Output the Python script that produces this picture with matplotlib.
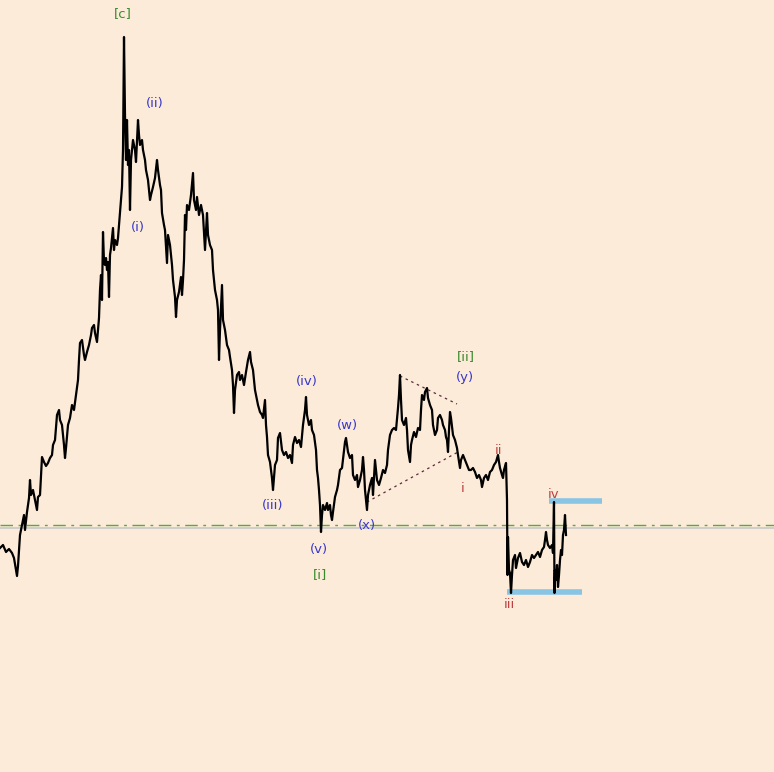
import matplotlib
matplotlib.use("Agg")
import matplotlib.pyplot as plt
import numpy as np

# ---- data (bar index, price; price = 772 - pixel row) ----
trace = [
(0,548),(3,545),(6,552),(9,549),(12,553),(14,558),(16,570),(17,576),(18,566),(20,535),(22,525),(24,515),(25,530),(27,512),
(29,498),(30,480),(31,495),(33,490),(35,500),(37,510),(38,497),(40,495),(42,457),(44,462),(46,466),(48,463),(50,458),(52,455),
(53,445),(55,440),(57,415),(59,410),(60,420),(62,425),(64,445),(65,458),(66,448),(68,425),(70,418),(72,405),(74,410),(76,395),
(78,380),(79,360),(80,343),(82,340),(84,355),(85,360),(87,352),(89,345),(91,335),(92,328),(94,325),(95,333),(97,342),(99,318),
(100,290),(101,275),(102,300),(103,232),(104,262),(105,265),(106,258),(107,270),(108,262),(109,297),(110,255),(111,248),(113,228),
(114,250),(115,240),(117,245),(118,238),(120,213),(121,200),(122,187),(123,150),(124,37),(125,115),(126,160),(127,120),(128,165),
(129,150),(130,210),(131,160),(133,140),(135,150),(136,162),(138,120),(139,135),(140,145),(142,140),(143,150),(145,160),(146,170),
(148,180),(150,200),(151,195),(153,187),(155,178),(157,160),(158,170),(160,185),(161,190),(162,213),(164,225),(165,230),(167,263),
(168,235),(170,245),(172,265),(173,280),(175,297),(176,317),(177,300),(179,292),(181,277),(182,295),(183,280),(184,260),(185,215),
(186,230),(187,205),(189,210),(191,195),(193,173),(194,200),(196,210),(197,197),(199,215),(201,205),(203,215),(205,250),(207,213),
(208,235),(210,245),(212,250),(213,270),(215,290),(217,300),(218,310),(219,360),(220,330),(222,285),(223,320),(225,330),(227,345),
(229,350),(230,357),(232,370),(233,385),(234,413),(235,390),(237,375),(239,372),(240,380),(242,375),(244,385),(246,372),(248,360),
(250,352),(251,362),(253,370),(255,390),(257,400),(258,405),(260,412),(262,415),(263,418),(265,400),(266,425),(267,437),(268,455),
(270,462),(271,470),(272,478),(273,490),(275,465),(277,460),(278,438),(280,433),(282,450),(284,455),(286,452),(288,458),(290,455),
(292,463),(293,445),(295,437),(297,443),(299,440),(301,447),(303,425),(305,410),(306,397),(307,415),(309,425),(311,420),(312,430),
(314,435),(316,450),(317,470),(318,478),(319,490),(320,505),(321,532),(322,515),(323,505),(325,510),(327,503),(328,510),(330,505),
(331,515),(332,520),(333,512),(335,497),(337,490),(338,485),(340,470),(342,468),(344,450),(345,442),(346,438),(348,452),(350,458),
(352,455),(353,475),(355,480),(357,475),(358,487),(360,480),(362,470),(363,457),(364,470),(365,490),(367,510),(368,495),(370,485),
(372,478),(373,495),(375,460),(377,480),(379,485),(381,478),(383,470),(385,473),(387,465),(388,450),(390,435),(392,430),(394,428),
(396,430),(398,408),(399,395),(400,375),(401,400),(402,420),(404,425),(406,418),(407,430),(408,450),(410,462),(411,445),(412,440),
(414,432),(416,437),(418,428),(420,430),(421,410),(422,395),(424,400),(425,392),(427,388),(428,398),(430,405),(432,410),(433,425),
(435,435),(437,430),(438,418),(440,415),(442,420),(443,425),(445,430),(446,437),(447,440),(448,452),(449,430),(450,412),(451,418),
(453,435),(455,440),(457,448),(458,455),(460,468),(461,460),(463,455),(465,460),(467,465),(469,470),(471,470),(473,468),(475,472),
(477,478),(479,475),(481,480),(482,487),(484,478),(486,475),(488,480),(490,472),(492,470),(494,465),(496,462),(498,455),(499,462),
(500,468),(502,475),(503,478),(504,470),(506,463),(507,500),(507.5,575),(508,537),(509,570),(510,573),(511,593),(512,575),(513,560),
(515,555),(516,568),(518,558),(520,553),(522,562),(524,565),(526,560),(528,567),(530,562),(532,555),(534,558),(536,555),(538,552),
(540,557),(542,550),(544,547),(545,540),(546,532),(547,540),(548,545),(550,548),(552,545),(553,553),(554,502),(554.5,593),(555,570),
(556,580),(557,565),(558,587),(559,575),(560,560),(561,550),(562,555),(563,535),(564,530),(565,515),(566,535),
]
bar_idx = [t[0] for t in trace]
price = [772 - t[1] for t in trace]

# wave labels: (text, bar index, price, colour group)
wave_labels = [
    ("[c]", 123, 772 - 14, "g"), ("(ii)", 155, 772 - 103, "b"), ("(i)", 138, 772 - 228, "b"),
    ("(iii)", 273, 772 - 505, "b"), ("(iv)", 307, 772 - 382, "b"), ("(v)", 319, 772 - 549, "b"),
    ("[i]", 320, 772 - 575, "g"), ("(w)", 347, 772 - 425, "b"), ("(x)", 367, 772 - 526, "b"),
    ("[ii]", 466, 772 - 357, "g"), ("(y)", 465, 772 - 377, "b"),
    ("i", 463, 772 - 489, "r"), ("ii", 499, 772 - 450, "r"), ("iii", 509, 772 - 604, "r"), ("iv", 554, 772 - 495, "r"),
]
# triangle trend lines: (x0, p0, x1, p1)
tri_lines = [(400, 772 - 376, 457, 772 - 404), (367, 772 - 502, 458, 772 - 452)]
# blue zones: (x0, x1, price)
zones = [(507, 582, 772 - 592), (549, 602, 772 - 501)]
ref_level = 772 - 525
gray_level = 772 - 528

colors = {"g": "#3c8a2e", "b": "#3838cc", "r": "#c04040"}
bg = "#fcebd8"

fig = plt.figure(figsize=(7.74, 7.72), dpi=100, facecolor=bg)
ax = fig.add_axes([0, 0, 1, 1])
ax.set_facecolor(bg)
ax.set_xlim(0, 774)
ax.set_ylim(0, 772)
ax.axis("off")

ax.axhline(gray_level, color="#c8c8c8", lw=1.2, zorder=1)
ax.axhline(ref_level, color="#55aa44", lw=1.0, dashes=(9, 4, 2, 4), zorder=1)

for x0, x1, p in zones:
    ax.plot([x0, x1], [p, p], color="#88c4e4", lw=4, solid_capstyle="butt", zorder=2)

for x0, p0, x1, p1 in tri_lines:
    ax.plot([x0, x1], [p0, p1], color="#5a2a3a", lw=0.9, dashes=(2, 3), zorder=2)

ax.plot(bar_idx, price, color="black", lw=1.6, zorder=3)

for txt, x, p, c in wave_labels:
    ax.text(x, p, txt, color=colors[c], fontsize=9.5, ha="center", va="center",
            family="DejaVu Sans", zorder=4)

fig.savefig("out.png", dpi=100, facecolor=bg)
